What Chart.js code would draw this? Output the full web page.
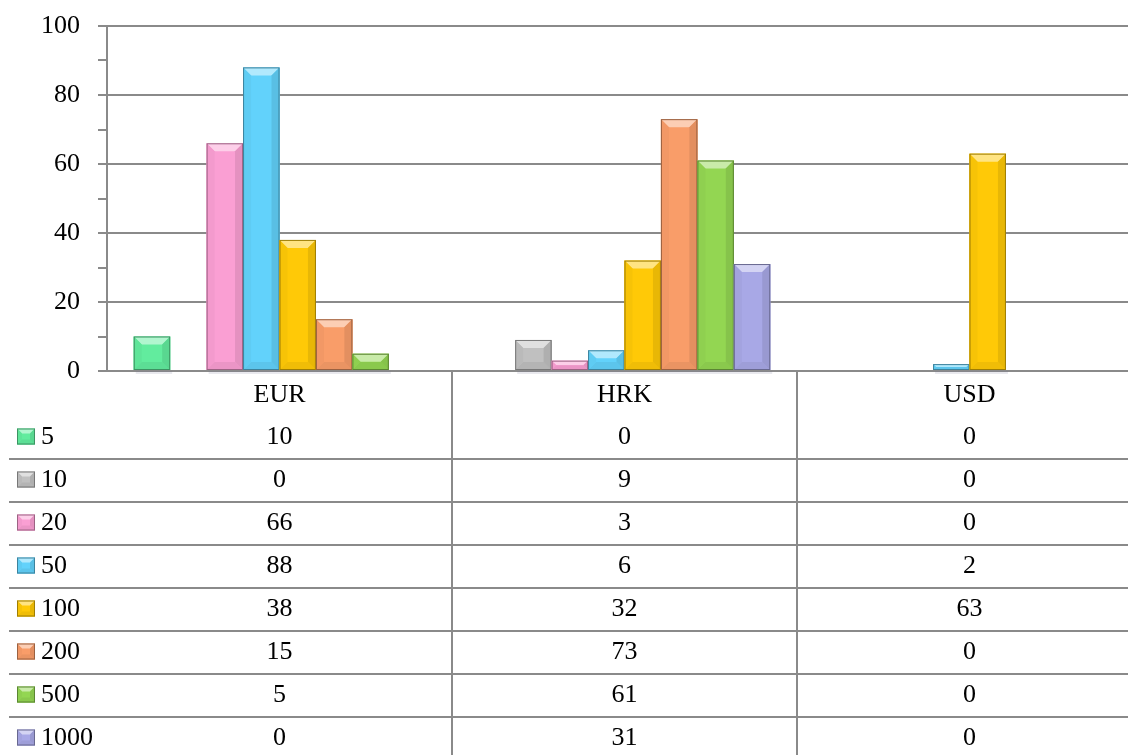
<!DOCTYPE html>
<html>
<head>
<meta charset="utf-8">
<script src="https://cdn.jsdelivr.net/npm/chart.js@4/dist/chart.umd.min.js"></script>
<style>
  html, body { margin: 0; padding: 0; background: #fff; overflow: hidden; }
  #wrap { width: 1142px; height: 755px; }
</style>
</head>
<body>
<div id="wrap"><canvas id="bars"></canvas></div>
<script>
// categories and series (one array per denomination)
const currencies = ['EUR', 'HRK', 'USD'];
const denominations = ['5', '10', '20', '50', '100', '200', '500', '1000'];
const d5 = [10, 0, 0];
const d10 = [0, 9, 0];
const d20 = [66, 3, 0];
const d50 = [88, 6, 2];
const d100 = [38, 32, 63];
const d200 = [15, 73, 0];
const d500 = [5, 61, 0];
const d1000 = [0, 31, 0];
const yTicks = [0, 20, 40, 60, 80, 100];

const seriesValues = [d5, d10, d20, d50, d100, d200, d500, d1000];
const colors = ['#62EC9E', '#C0C0C0', '#FA9FD3', '#62D2FB', '#FFC907', '#F99D69', '#93D652', '#A8A8E6'];

const FONT = '"Liberation Serif", "DejaVu Serif", serif';
const FSIZE = 26;
const LINE = '#8a8a8a';

function shade(hex, amt) {
    // amt > 0 mixes with white, amt < 0 mixes with black
    const n = parseInt(hex.slice(1), 16);
    let r = n >> 16, g = (n >> 8) & 255, b = n & 255;
    const t = amt > 0 ? 255 : 0, p = Math.abs(amt);
    r = Math.round(r + (t - r) * p);
    g = Math.round(g + (t - g) * p);
    b = Math.round(b + (t - b) * p);
    return `rgb(${r},${g},${b})`;
}

function bevelBox(ctx, left, top, right, bottom, color, size) {
    const b = Math.min(size, (bottom - top) / 2, (right - left) / 2);
    const quad = (pts, fill) => {
        ctx.beginPath();
        ctx.moveTo(pts[0][0], pts[0][1]);
        for (let i = 1; i < pts.length; i++) ctx.lineTo(pts[i][0], pts[i][1]);
        ctx.closePath();
        ctx.fillStyle = fill;
        ctx.fill();
    };
    quad([[left, top], [right, top], [right, bottom], [left, bottom]], color);
    quad([[left, top], [right, top], [right - b, top + b], [left + b, top + b]], shade(color, 0.5));
    quad([[left, bottom], [right, bottom], [right - b, bottom - b], [left + b, bottom - b]], shade(color, -0.06));
    quad([[left, top], [left + b, top + b], [left + b, bottom - b], [left, bottom]], shade(color, -0.03));
    quad([[right, top], [right - b, top + b], [right - b, bottom - b], [right, bottom]], shade(color, -0.09));
    ctx.strokeStyle = shade(color, -0.38);
    ctx.lineWidth = 1;
    ctx.strokeRect(left + 0.5, top + 0.5, right - left - 1, bottom - top - 1);
}

const bevelPlugin = {
    id: 'bevel',
    afterDatasetsDraw(chart) {
        const ctx = chart.ctx;
        ctx.save();
        chart.data.datasets.forEach((ds, di) => {
            const meta = chart.getDatasetMeta(di);
            meta.data.forEach((bar, i) => {
                if (!ds.data[i]) return;
                const p = bar.getProps(['x', 'y', 'base', 'width'], true);
                const left = p.x - p.width / 2, right = p.x + p.width / 2;
                // soft shadow under the bar
                ctx.fillStyle = 'rgba(120,120,150,0.16)';
                ctx.fillRect(left + 2, p.base + 1, p.width, 3);
                bevelBox(ctx, left, p.y, right, p.base, colors[di], 8);
            });
        });
        ctx.restore();
    }
};

const dataTablePlugin = {
    id: 'dataTable',
    afterDraw(chart) {
        const ctx = chart.ctx;
        const x = chart.scales.x;
        const area = chart.chartArea;
        const headerH = 45, rowH = 43;
        const firstRow = area.bottom + headerH;
        ctx.save();
        ctx.strokeStyle = LINE;
        ctx.lineWidth = 2;
        // horizontal row separators
        for (let r = 1; r < denominations.length; r++) {
            const y = firstRow + r * rowH;
            ctx.beginPath();
            ctx.moveTo(9, y);
            ctx.lineTo(chart.width, y);
            ctx.stroke();
        }
        // vertical separators between categories
        for (let i = 1; i < currencies.length; i++) {
            const bx = (x.getPixelForValue(i - 1) + x.getPixelForValue(i)) / 2;
            ctx.beginPath();
            ctx.moveTo(bx, area.bottom);
            ctx.lineTo(bx, chart.height);
            ctx.stroke();
        }
        ctx.font = FSIZE + 'px ' + FONT;
        ctx.textBaseline = 'middle';
        denominations.forEach((name, r) => {
            const cy = firstRow + r * rowH + rowH / 2 - 1;
            bevelBox(ctx, 17, cy - 8, 35, cy + 8, colors[r], 5);
            ctx.fillStyle = '#000';
            ctx.textAlign = 'left';
            ctx.fillText(name, 41, cy + 1);
            ctx.textAlign = 'center';
            seriesValues[r].forEach((v, i) => {
                ctx.fillText(String(v), x.getPixelForValue(i), cy + 1);
            });
        });
        ctx.restore();
    }
};

const ctx = document.getElementById('bars').getContext('2d');

new Chart(ctx, {
    type: 'bar',
    data: {
        labels: currencies,
        datasets: denominations.map((name, i) => ({
            label: name,
            data: seriesValues[i],
            backgroundColor: colors[i],
            borderWidth: 0
        }))
    },
    options: {
        responsive: true,
        maintainAspectRatio: false,
        animation: false,
        layout: { padding: { top: 26, left: 0, right: 0, bottom: 0 } },
        datasets: { bar: { categoryPercentage: 0.845, barPercentage: 1.0 } },
        plugins: {
            legend: { display: false },
            tooltip: { enabled: false }
        },
        scales: {
            x: {
                grid: { display: false, drawTicks: false },
                border: { display: true, color: LINE, width: 2 },
                ticks: { color: '#000', font: { family: FONT, size: FSIZE }, padding: 9 },
                afterFit(scale) {
                    scale.height = 384;
                    scale.paddingLeft = 0;
                    scale.paddingRight = 0;
                }
            },
            y: {
                min: 0,
                max: 100,
                grid: {
                    color: c => (c.tick && c.tick.value % 20 === 0 ? LINE : 'rgba(0,0,0,0)'),
                    tickColor: LINE,
                    lineWidth: 2,
                    tickLength: 9,
                    drawTicks: true
                },
                border: { display: true, color: LINE, width: 2 },
                ticks: {
                    stepSize: 10,
                    color: '#000',
                    font: { family: FONT, size: FSIZE },
                    padding: 18,
                    callback: v => (yTicks.includes(v) ? String(v) : '')
                },
                afterFit(scale) {
                    scale.width = 107;
                    scale.paddingTop = 0;
                    scale.paddingBottom = 0;
                }
            }
        }
    },
    plugins: [bevelPlugin, dataTablePlugin]
});
</script>
</body>
</html>
